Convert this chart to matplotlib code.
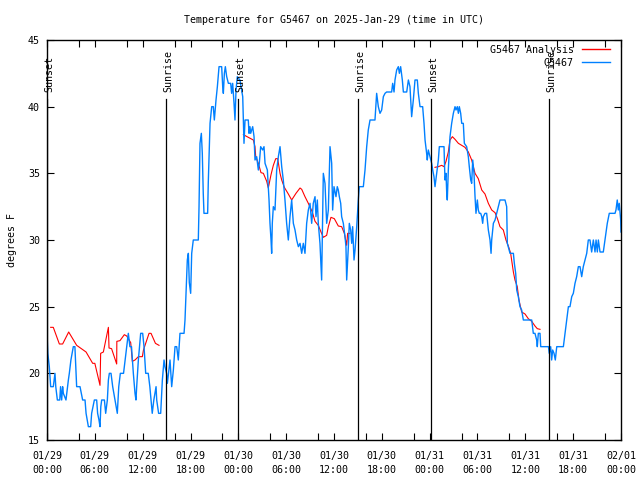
import numpy as np
import matplotlib
matplotlib.use('Agg')
import matplotlib.pyplot as plt

# hours since 2025-01-29 00:00 UTC, temperature in F
obs_hours = [0.0, 0.1, 0.29, 0.46, 0.79, 0.9, 1.0, 1.1, 1.3, 1.6, 1.7, 1.84, 1.96, 2.05, 2.38,
             2.68, 2.8, 3.0, 3.3, 3.5, 3.72, 4.14, 4.47, 4.77, 4.9, 5.19, 5.48, 5.6, 5.94, 6.23,
             6.35, 6.52, 6.65, 6.75, 6.86, 7.2, 7.36, 7.57, 7.7, 7.82, 8.03, 8.24, 8.53, 8.82,
             9.0, 9.2, 9.6, 9.8, 9.99, 10.2, 10.4, 10.6, 10.83, 11.04, 11.16, 11.25, 11.46,
             11.75, 12.0, 12.17, 12.38, 12.7, 12.9, 13.2, 13.4, 13.68, 13.76, 14.0, 14.26,
             14.47, 14.68, 14.8, 15.0, 15.1, 15.43, 15.64, 15.85, 16.06, 16.27, 16.47, 16.68,
             17.19, 17.31, 17.44, 17.6, 17.73, 17.85, 18.02, 18.15, 18.35, 18.98, 19.07, 19.19,
             19.36, 19.48, 19.6, 19.69, 20.15, 20.23, 20.45, 20.66, 20.86, 20.99, 21.2, 21.37,
             21.58, 21.91, 22.04, 22.12, 22.25, 22.37, 22.54, 22.75, 23.04, 23.16, 23.29, 23.46,
             23.58, 23.71, 23.87, 24.2, 24.55, 24.71, 24.84, 25.25, 25.34, 25.46, 25.55, 25.8,
             25.97, 26.09, 26.3, 26.51, 26.63, 26.8, 27.05, 27.22, 27.35, 27.64, 27.85, 27.97,
             28.1, 28.18, 28.26, 28.39, 28.6, 28.81, 29.02, 29.23, 29.44, 29.64, 29.85, 30.06,
             30.27, 30.48, 30.69, 30.9, 31.11, 31.32, 31.53, 31.74, 31.95, 32.15, 32.36, 32.57,
             32.78, 32.99, 33.2, 33.4, 33.62, 33.74, 33.91, 34.03, 34.24, 34.45, 34.66, 34.87,
             35.08, 35.29, 35.5, 35.71, 35.83, 36.0, 36.25, 36.41, 36.54, 36.67, 36.84, 36.96,
             37.17, 37.38, 37.5, 37.59, 37.8, 37.92, 38.09, 38.22, 38.34, 38.51, 38.64, 38.85,
             39.05, 39.17, 39.68, 39.89, 40.1, 40.3, 40.52, 41.14, 41.35, 41.56, 41.77, 41.98,
             42.19, 42.4, 42.6, 43.23, 43.36, 43.53, 43.65, 43.86, 44.07, 44.2, 44.36, 44.57,
             44.7, 45.12, 45.33, 45.53, 45.74, 45.95, 46.16, 46.45, 46.58, 46.79, 47.12, 47.29,
             47.42, 47.62, 47.7, 47.83, 48.04, 48.25, 48.38, 48.54, 48.67, 48.88, 49.09, 49.21,
             49.8, 49.92, 50.05, 50.14, 50.21, 50.34, 50.55, 50.76, 50.97, 51.18, 51.3, 51.47,
             51.6, 51.72, 51.89, 52.02, 52.22, 52.35, 52.64, 52.85, 52.97, 53.15, 53.27, 53.4,
             53.56, 53.69, 53.81, 53.98, 54.1, 54.23, 54.4, 54.53, 54.65, 54.73, 54.94, 55.15,
             55.36, 55.57, 55.7, 55.78, 55.99, 56.2, 56.41, 56.62, 56.82, 57.45, 57.66, 57.74,
             58.08, 58.5, 58.62, 58.79, 58.92, 59.12, 59.33, 59.54, 59.75, 60.8, 61.0, 61.21,
             61.42, 61.5, 61.63, 61.84, 61.93, 62.9, 63.0, 63.18, 63.3, 63.43, 63.6, 63.76,
             63.94, 64.77, 64.98, 65.19, 65.4, 65.6, 65.82, 66.02, 66.23, 66.44, 66.65, 66.86,
             67.07, 67.27, 67.49, 67.7, 67.9, 68.11, 68.32, 68.53, 68.74, 68.87, 69.03, 69.16,
             69.37, 69.78, 69.99, 70.28, 70.53, 71.25, 71.37, 71.53, 71.66, 71.78, 71.96, 72.0]
obs_temp = [23, 21.5, 20.5, 19, 19, 19.5, 20, 19, 18, 18, 19, 18, 19, 18.5, 18,
            19.5, 20, 21, 22, 22, 19, 19, 18, 18, 17, 16, 16, 17, 18, 18,
            17, 16.5, 16, 17.5, 18, 18, 17, 18, 19.5, 20, 20, 19, 18, 17,
            19, 20, 20, 21, 22, 23, 22, 22, 20, 18.5, 18, 19, 21,
            23, 23, 22, 20, 20, 19, 17, 18, 19, 18, 17, 17,
            19.5, 21, 20.5, 20, 19.25, 21, 19, 20.25, 22, 22, 21, 23,
            23, 24, 26, 28.5, 29, 26.8, 26, 29, 30, 30, 32.5, 37.25,
            38, 36.5, 33.5, 32, 32, 34.3, 38.75, 40, 40, 39, 40.5, 41.5,
            43, 43, 41.5, 41, 42.5, 43, 42.25, 41.75, 41.75, 41, 41.75, 40.25,
            39, 41.25, 42.25, 42, 40.75, 37.25, 39, 39, 38, 38.5, 38, 38.5,
            37.75, 36, 36.25, 35.25, 35.75, 37, 36.75, 37, 35.75, 35.25, 33, 31.25,
            30, 29, 31.25, 32.5, 32.25, 35.25, 36.25, 37, 35.5, 34.5, 33, 31.25,
            30, 31.75, 33, 31.25, 30.75, 30, 29.5, 29.75, 29, 29.75, 29, 31.25,
            32.25, 32.75, 31.25, 32.75, 33.25, 31.75, 33, 31.25, 29.75, 27, 35, 34.25,
            31.25, 32.25, 37, 35.75, 32.25, 34, 33.25, 34, 33.75, 33.25, 32.75, 31.75,
            31.25, 30.25, 29.5, 27, 29.5, 31.25, 30.75, 29.75, 31, 28.5, 29.25, 31,
            33, 34, 34, 35.25, 37, 38.25, 39, 39, 41, 40, 39.5, 39.75,
            40.75, 41, 41.1, 41.1, 41.75, 41.1, 42, 42.75, 43, 42.5, 43, 42,
            41.1, 41.1, 42, 41.5, 39.25, 40.5, 42, 42, 41, 40, 40, 38.75,
            37.5, 36.5, 36, 36.75, 36.25, 35.75, 35.25, 34.75, 34, 35, 36, 37,
            37, 34.5, 35, 33.5, 33, 35.25, 37.75, 38.75, 39.5, 40, 39.75, 40,
            39.5, 40, 39.5, 38.75, 38.75, 37.25, 37, 36.25, 35.5, 34.5, 34.25, 36,
            35, 33.25, 32, 33, 32.25, 32, 32, 31.75, 31.25, 31.75, 32, 32,
            30.75, 30, 29, 30, 31.25, 31.5, 32, 32.5, 33, 33, 32.5, 29.75,
            29, 29, 28.25, 27.5, 26.25, 25.75, 25, 24.75, 24, 24, 23, 23,
            22.5, 22, 23, 23, 22, 22, 21.5, 22, 21, 21.75, 21.5, 21,
            22, 22, 23, 24, 25, 25, 25.75, 26, 26.75, 27.25, 28, 28,
            27.25, 28, 28.5, 29, 30, 30, 29.1, 30, 29.1, 30, 29.1, 30,
            29.1, 29.1, 30, 31.25, 32, 32, 32.25, 33, 32.25, 32.75, 31.5, 30.6]

# analysis, nan = gap
ana_hours = [0.46, 0.79, 1.55, 1.96, 2.72, 3.72, 4.9, 5.73, 6.0, 6.65, 6.73, 7.07, 7.7, 7.78,
             8.1, 8.74, 8.76, 9.15, 9.7, 10.0, 10.5, 10.7, 11.04, 11.46, 11.96, 12.1, 12.8,
             13.05, 13.6, 14.05, 19.0,
             24.63, 25.25, 25.88, 26.09, 26.18, 26.51, 26.84, 27.14, 27.56, 27.76, 28.1, 28.39,
             28.69, 28.94, 29.23, 29.44, 29.77, 30.27, 30.69, 31.23, 31.74, 31.95, 32.36, 32.78,
             33.28, 33.62, 34.03, 34.37, 34.66, 35.08, 35.29, 35.62, 36.04, 36.54, 36.96, 37.3,
             37.59, 37.71, 38.0, 43.0,
             48.67, 49.09, 49.5, 49.8, 50.05, 50.34, 50.55, 50.85, 51.18, 51.6, 52.02, 52.43,
             52.85, 53.27, 53.69, 54.1, 54.53, 54.94, 55.36, 55.78, 56.2, 56.5, 56.82, 57.24,
             57.57, 57.87, 58.16, 58.5, 58.7, 58.99, 59.2, 59.54, 59.96, 60.37, 60.8, 61.21,
             61.5, 61.84]
ana_temp = [23.45, 23.45, 22.2, 22.2, 23.1, 22.1, 21.6, 20.75, 20.75, 19.1, 21.5, 21.6, 23.45, 21.9,
            21.85, 20.7, 22.4, 22.45, 22.9, 22.8, 22.3, 20.9, 21.0, 21.25, 21.25, 21.75, 23.0,
            23.0, 22.25, 22.1, np.nan,
            37.9, 37.7, 37.5, 37.0, 36.25, 35.75, 35.05, 35.0, 34.4, 33.9, 34.9, 35.6,
            36.1, 36.1, 35.0, 34.5, 33.95, 33.45, 33.0, 33.5, 33.9, 33.8, 33.25, 32.75,
            32.1, 31.4, 31.1, 30.6, 30.2, 30.35, 31.0, 31.7, 31.6, 31.05, 31.0, 30.5,
            29.6, 30.5, 30.5, np.nan,
            35.45, 35.5, 35.6, 35.5, 35.9, 36.6, 37.5, 37.75, 37.55, 37.25, 37.1, 36.95,
            36.6, 36.0, 35.0, 34.6, 33.75, 33.45, 32.75, 32.25, 32.05, 31.6, 31.0, 30.75,
            30.0, 29.55, 29.0, 27.6, 27.0, 26.5, 25.5, 24.6, 24.45, 24.1, 23.9, 23.55,
            23.35, 23.3]

sun_hours = [0.0, 14.95, 23.97, 39.0, 48.2, 63.0]
sun_names = ['Sunset', 'Sunrise', 'Sunset', 'Sunrise', 'Sunset', 'Sunrise']

tick_hours = [0, 6, 12, 18, 24, 30, 36, 42, 48, 54, 60, 66, 72]
tick_labels = ['01/29\n00:00', '01/29\n06:00', '01/29\n12:00', '01/29\n18:00',
               '01/30\n00:00', '01/30\n06:00', '01/30\n12:00', '01/30\n18:00',
               '01/31\n00:00', '01/31\n06:00', '01/31\n12:00', '01/31\n18:00',
               '02/01\n00:00']

plt.rcParams['font.family'] = ['DejaVu Sans Mono']
plt.rcParams['font.size'] = 7.2

fig = plt.figure(figsize=(6.4, 4.8), dpi=100)
ax = fig.add_axes([47/640, 40/480, 574/640, 400/480])

ax.plot(ana_hours, ana_temp, color='#ff0000', lw=0.8)
ax.plot(obs_hours, obs_temp, color='#0080ff', lw=1.0)

for h, name in zip(sun_hours, sun_names):
    ax.plot([h, h], [15, 40.58], color='black', lw=0.9)
    ax.text(h + 0.25, 41.1, name, rotation=90, ha='center', va='bottom', fontsize=7.2)

ax.set_xlim(0, 72)
ax.set_ylim(15, 45)
ax.set_xticks(tick_hours)
ax.set_xticklabels(tick_labels, linespacing=1.45)
minor = [h + 4 for h in tick_hours[:-1]]
ax.set_xticks(minor, minor=True)
ax.set_yticks([15, 20, 25, 30, 35, 40, 45])
ax.tick_params(which='both', direction='in', top=True, right=True, length=5, width=0.8, pad=5)
ax.tick_params(axis='x', pad=8)
for s in ax.spines.values():
    s.set_linewidth(1.0)

ax.set_ylabel('degrees F', labelpad=8)
ax.set_title('Temperature for G5467 on 2025-Jan-29 (time in UTC)', pad=12, fontsize=7.2)

# legend keys
ax.text(0.918, 0.975, 'G5467 Analysis', transform=ax.transAxes, ha='right', va='center')
ax.plot([0.9315, 0.9808], [0.977, 0.977], transform=ax.transAxes, color='#ff0000', lw=1.0, clip_on=False)
ax.text(0.918, 0.943, 'G5467', transform=ax.transAxes, ha='right', va='center')
ax.plot([0.9315, 0.9808], [0.944, 0.944], transform=ax.transAxes, color='#0080ff', lw=1.0, clip_on=False)

fig.savefig('out.png', dpi=100)
